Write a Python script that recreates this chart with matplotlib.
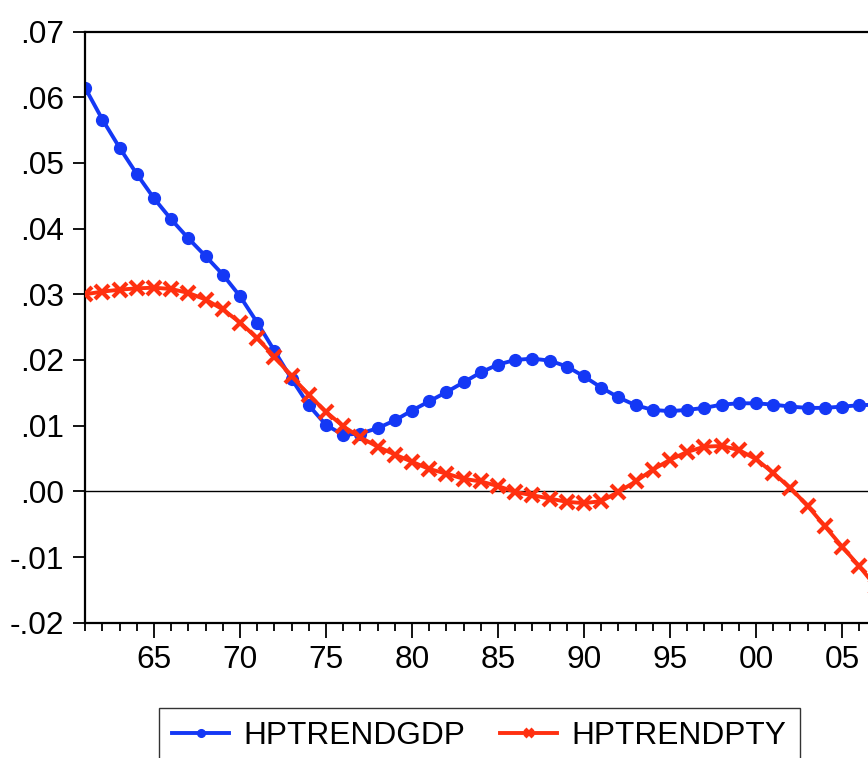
import numpy as np
import matplotlib
matplotlib.use('Agg')
import matplotlib.pyplot as plt
from matplotlib.ticker import MultipleLocator, FixedLocator

# data (annual, 1961-2007)
years = list(range(1961, 2008))

hptrendgdp = [0.0614, 0.0566, 0.0523, 0.0483, 0.0446, 0.0414, 0.0385, 0.0358, 0.0330, 0.0297,
              0.0257, 0.0214, 0.0171, 0.0131, 0.0101, 0.0086, 0.0088, 0.0096, 0.0108, 0.0123,
              0.0137, 0.0151, 0.0166, 0.0181, 0.0193, 0.0200, 0.0202, 0.0199, 0.0190, 0.0175,
              0.0158, 0.0143, 0.0131, 0.0124, 0.0122, 0.0124, 0.0127, 0.0132, 0.0134, 0.0134,
              0.0132, 0.0129, 0.0127, 0.0127, 0.0129, 0.0131, 0.0132]

hptrendpty = [0.0300, 0.0304, 0.0307, 0.0309, 0.0310, 0.0308, 0.0302, 0.0292, 0.0277, 0.0257,
              0.0233, 0.0205, 0.0175, 0.0147, 0.0121, 0.0099, 0.0082, 0.0068, 0.0056, 0.0045,
              0.0034, 0.0027, 0.0019, 0.0015, 0.0008, -0.0001, -0.0006, -0.0011, -0.0016, -0.0018,
              -0.0015, -0.0001, 0.0015, 0.0033, 0.0048, 0.0060, 0.0068, 0.0069, 0.0063, 0.0049,
              0.0028, 0.0005, -0.0022, -0.0053, -0.0084, -0.0114, -0.0146]

yticks = [-0.02, -0.01, 0.00, 0.01, 0.02, 0.03, 0.04, 0.05, 0.06, 0.07]
ytick_labels = ['-.02', '-.01', '.00', '.01', '.02', '.03', '.04', '.05', '.06', '.07']
xticks = [1965, 1970, 1975, 1980, 1985, 1990, 1995, 2000, 2005]
xtick_labels = ['65', '70', '75', '80', '85', '90', '95', '00', '05']

blue = '#1438f5'
red = '#ff3010'

plt.rcParams['font.family'] = ['Liberation Sans', 'DejaVu Sans']
fs = 22.8

W, H = 868, 758
fig = plt.figure(figsize=(W / 100, H / 100), dpi=100)
left, top, bottom = 85.2, 31.5, 622.7
px_year = 17.2
x0, x1 = 1961, 2008
ax = fig.add_axes([left / W, (H - bottom) / H, (x1 - x0) * px_year / W, (bottom - top) / H])

ax.axhline(0, color='black', lw=1.0, zorder=1)
ax.plot(years, hptrendgdp, color=blue, lw=2.8, marker='o', ms=8.5, mec=blue, mfc=blue,
        label='HPTRENDGDP', zorder=2)
ax.plot(years, hptrendpty, color=red, lw=2.8, marker='x', ms=9.5, mew=3.0, mec=red,
        label='HPTRENDPTY', zorder=3)

ax.set_xlim(x0, x1)
ax.set_ylim(-0.02, 0.07)

ax.yaxis.set_major_locator(FixedLocator(yticks))
ax.set_yticklabels(ytick_labels)
ax.xaxis.set_major_locator(FixedLocator(xticks))
ax.set_xticklabels(xtick_labels)
ax.xaxis.set_minor_locator(MultipleLocator(1))

for s in ax.spines.values():
    s.set_linewidth(1.6)
ax.tick_params(axis='both', which='both', direction='out', labelsize=fs, width=1.3,
               top=False, right=False)
ax.tick_params(axis='y', which='major', length=9, pad=6)
ax.tick_params(axis='x', which='major', length=11, pad=5)
ax.tick_params(axis='x', which='minor', length=5.5)

fig.legend(loc='upper left', bbox_to_anchor=(159 / W, 1 - 708 / H), ncol=2,
           fontsize=fs, frameon=True, fancybox=False, edgecolor='black',
           handlelength=1.8, handletextpad=0.45, columnspacing=1.1, borderpad=0.42,
           borderaxespad=0, numpoints=1, markerscale=0.65)
leg = fig.legends[0]
leg.get_frame().set_linewidth(1.0)

fig.savefig('out.png', dpi=100)
